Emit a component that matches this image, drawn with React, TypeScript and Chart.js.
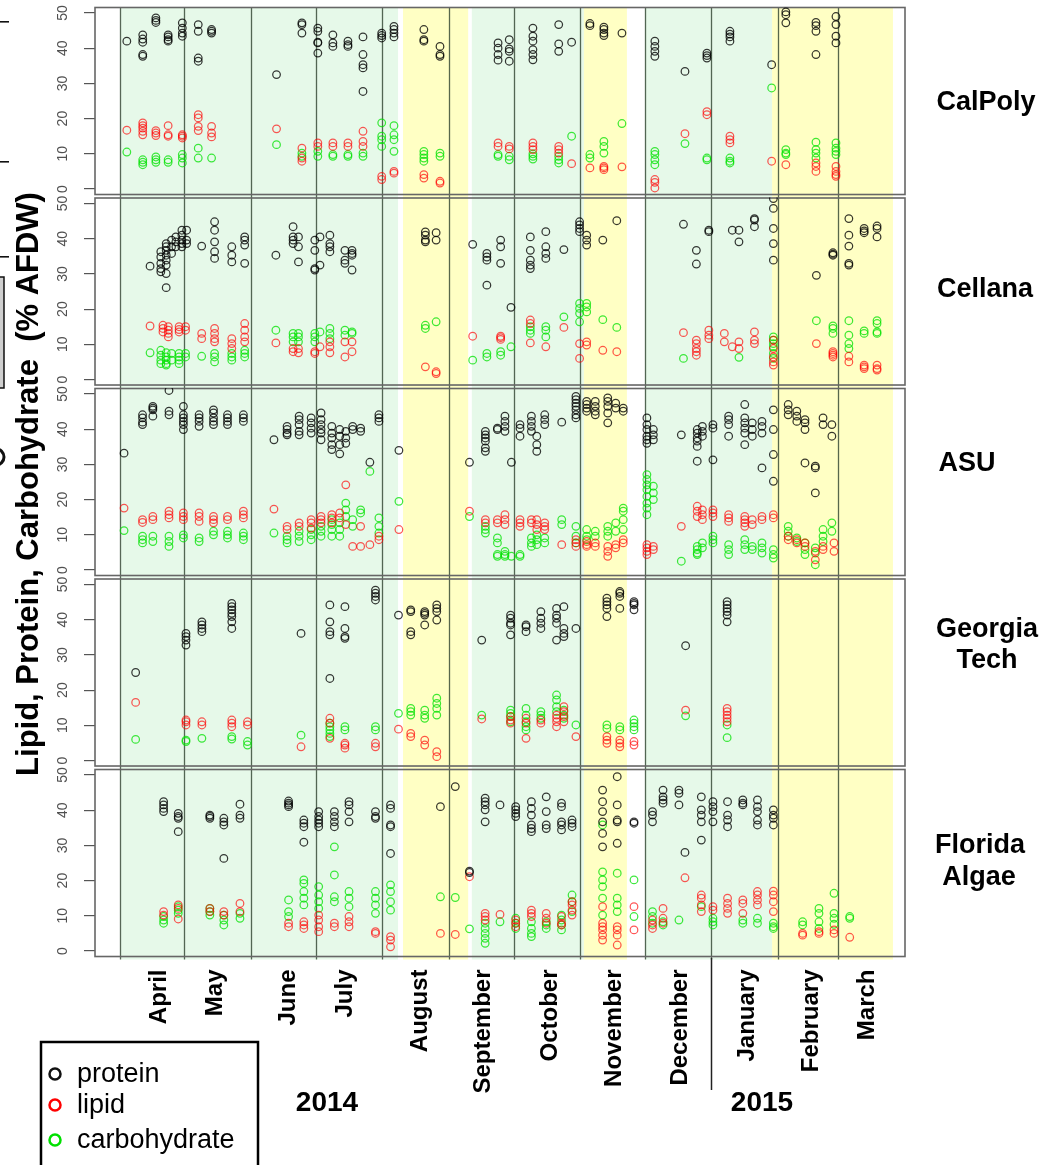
import React, { useEffect, useRef } from "react";
import { Chart, registerables } from "chart.js";

Chart.register(...registerables);

// ---------------- DATA ----------------
// x = days since 1 April 2014; each group: [day, value, value, ...]  (% AFDW)
type Group = number[];

const seriesNames = ["protein", "lipid", "carbohydrate"];
const monthNames = ["April", "May", "June", "July", "August", "September", "October", "November", "December", "January", "February", "March"];
const monthLabelDays = [18.2, 44.2, 78.1, 104.6, 139.5, 168.8, 199.9, 230.1, 260.4, 291.5, 321.7, 347.3];
const monthStartDays = [0, 30, 61, 91, 122, 153, 183, 214, 244, 275, 306, 334];
const yearNames = ["2014", "2015"];
const yTickValues = [0, 10, 20, 30, 40, 50];
const greenPeriods = [[0.5, 129.3], [163.6, 215.7], [244.1, 303.2]];
const yellowPeriods = [[131.6, 161.9], [215.7, 235.7], [303.2, 359.4]];
const yearBoundaryDay = 275;

const calpolyProtein: Group[] = [
  [3.2, 42], [10.6, 43.8, 42.6, 41.7, 38.2, 37.7], [16.7, 48.6, 47.9, 47.3], [22.4, 43.8, 43.2, 42.4, 42],
  [29, 47.2, 45.7, 44.3, 43.4], [36.4, 46.7, 44.8, 37.2, 36.3], [42.6, 45.3, 44.8, 44.3], [72.8, 32.5],
  [84.6, 47.2, 46.7, 44.3], [92, 45.7, 44.8, 41.7, 41.5, 38.6], [99, 43.8, 41.5, 40.5], [106, 42, 41, 40.5],
  [113, 43.2, 38.2, 35.3, 34.4, 27.7], [121.7, 44.3, 43.6, 42.9], [127.4, 46.2, 45.3, 44.3, 43.2],
  [141.3, 45.3, 42.4, 42], [148.8, 40.5, 38.2, 37.7], [175.8, 41.5, 40, 38.2, 36.6], [181, 42.4, 39.8, 39.1, 36.3],
  [192, 45.7, 43.4, 42, 39.6, 38.2, 36.7], [204, 46.7, 41.2, 39.1], [210, 41.7], [218.5, 47, 46.4],
  [225, 46, 45.3, 44.3, 43.6], [233.4, 44.3], [248.7, 42, 40.5, 39.1, 37.7], [262.7, 33.4], [272.9, 38.6, 37.9, 37.2],
  [283.6, 44.8, 44, 43.2, 42], [303, 35.3], [309.6, 50.3, 49.5, 47.2], [323.6, 47.3, 46.4, 44.8, 38.2],
  [332.9, 49, 46.7, 43.4, 41.5],
];
const calpolyLipid: Group[] = [
  [3.2, 16.7], [10.6, 18.8, 18, 17.3, 16.4, 15.4], [16.7, 16.6, 15.9, 15.2], [22.4, 18, 15.4, 15], [29, 15.4, 15, 14.5],
  [36.4, 21.1, 20.2, 17.8, 16.6], [42.6, 17.8, 15.9, 14.8], [72.8, 17.1], [84.6, 11.6, 8.8, 7.9], [92, 13.1, 12.1],
  [99, 13.1, 12.1], [106, 13.1, 12.1], [113, 16.4, 13.5, 12.1], [121.7, 3.6, 2.7], [127.4, 5, 4.5], [141.3, 4.1, 3.1],
  [148.8, 2.2, 1.7], [175.8, 13.1, 12.1], [181, 12.1, 11.4], [192, 13.1, 12.1, 11.2], [204, 12.1, 11.2, 10.2],
  [210, 7.2], [218.5, 6], [225, 6.4, 6, 5.5], [233.4, 6.3], [248.7, 2.7, 1.9, 0.3], [262.7, 15.7], [272.9, 22, 21.1],
  [283.6, 15, 14, 13.1], [303, 7.9], [309.6, 6.9], [323.6, 7.4, 6.4, 5], [332.9, 6.4, 5, 4.1, 3.6],
];
const calpolyCarb: Group[] = [
  [3.2, 10.5], [10.6, 8.3, 7.6, 6.9], [16.7, 9.1, 8.3, 7.6], [22.4, 8.3, 7.6], [29, 9.8, 8.8, 7.4], [36.4, 11.6, 8.8],
  [42.6, 8.8], [72.8, 12.6], [84.6, 10.2, 9.3], [92, 10.7, 9.3], [99, 9.8, 9.3], [106, 9.8, 9.3], [113, 10.2, 9.3],
  [121.7, 18.8, 15, 14, 12.1], [127.4, 18, 15.4, 14, 10.7], [141.3, 10.7, 9.8, 8.8, 7.9], [148.8, 10.2, 9.3],
  [175.8, 9.8, 9.3], [181, 9.3, 8.3], [192, 10, 9.3, 8.5], [204, 9.3, 8.3, 7.4], [210, 15], [218.5, 9.8, 8.8],
  [225, 13.5, 12.1, 10.2], [233.4, 18.6], [248.7, 10.7, 9.8, 8.3, 6.9], [262.7, 12.9], [272.9, 8.8, 8.3],
  [283.6, 8.8, 7.9, 7.4], [303, 28.7], [309.6, 11.2, 10.2, 9.8], [323.6, 13.3, 11.2, 10.2, 8.8], [332.9, 13.1, 11.6, 10.7, 9.8],
];

const cellanaProtein: Group[] = [
  [14, 32.2], [19, 36.3, 34.8, 33, 31.5, 30.6], [21.5, 38.6, 37.7, 36.7, 35.3, 33.9, 32.5, 30.1, 26.1], [24, 39.6, 37.7, 35.8],
  [26, 40.5, 39.1, 37.7], [28.8, 42.4, 41, 39.6, 38.6, 37.7], [31, 42.4, 39.6, 38.6], [38, 37.9], [44, 44.8, 42.4, 39.1, 36.3, 34.4],
  [52, 37.7, 35.3, 33.4], [58, 40.5, 39.6, 38.2, 33], [72.5, 35.3], [80.5, 43.4, 40.5, 39.6, 38.6], [83, 40.5, 37.7, 33.4],
  [90.6, 39.6, 36.7, 31.5, 31.1], [93, 40.5, 32.5], [97.6, 41, 38.6, 37.7, 36.3], [104.6, 36.7, 33.9, 33], [107.9, 36.7, 35.8, 35.3, 31.1],
  [142, 41.9, 41, 39.6, 39.1], [147, 41.7, 39.6], [164, 38.4], [170.6, 35.8, 34.8, 33.9, 26.8], [177, 39.6, 37.7, 33], [181.8, 20.5],
  [190.8, 40.5, 36.7, 33.9, 32.5, 31.5], [198, 42, 37.7, 35.8, 34.4], [206.4, 36.9], [213.7, 44.8, 43.9, 42.9, 42], [217, 41, 39.6, 38.2],
  [224.5, 39.6], [231, 45.1], [262, 44.1], [268, 36.7, 32.8], [273.8, 42.4, 42], [284.7, 42.4], [287.8, 42.4, 39.1], [295, 45.7, 45.3, 43.4],
  [303.8, 51.4, 48.6, 42.9, 38.6, 33.9], [323.8, 29.6], [331.5, 36, 35.6, 35.3], [338.9, 45.7, 41, 37.9, 33, 32.5], [346, 42.9, 42.2, 41.7],
  [352, 43.6, 42.9, 40.5],
];
const cellanaLipid: Group[] = [
  [14, 15.2], [20, 15.4, 14.5, 13.5], [22.5, 15, 14, 13.1, 12.1], [27.5, 15, 14.2, 13.5], [30.5, 15, 14], [38, 13.1, 11.6],
  [44, 14.5, 13.1, 11.6, 10.7], [52, 11.6, 10.2, 8.8], [58, 15.9, 14, 12.1, 10.7], [72.5, 10.4], [80.5, 8.8, 7.9], [83, 8.8, 7.6],
  [90.6, 7.9, 7.4], [93, 9.3], [97.6, 10.7, 9.3, 7.6], [104.6, 10.7, 6.4], [107.9, 10.7, 7.9], [142, 3.6], [147, 2.2, 1.7], [164, 12.3],
  [177, 12.3, 11.9, 11.4], [190.8, 16.9, 15.9, 10.4], [198, 9.3], [206.4, 14.8], [213.7, 10.2, 6], [217, 10.7, 9.8], [224.5, 8.3],
  [231, 7.9], [262, 13.3], [268, 11.2, 10.2, 8.8, 7.9, 6.9], [273.8, 14, 12.6, 11.6], [281, 13.1, 10.7], [284.7, 9.3], [287.8, 10.7, 8.8],
  [295, 13.5, 11.2, 10.2], [303.8, 11.2, 8.8, 6.4, 5, 4.1], [323.8, 10.2], [331.5, 7.9, 7.4, 6.9, 6.4], [338.9, 6.6, 5],
  [346, 4.1, 3.6, 3.1], [352, 4.1, 3.1, 2.7],
];
const cellanaCarb: Group[] = [
  [14, 7.6], [19, 8.3, 6.9, 5.5, 4.5], [21.5, 7.6, 6.4, 5.5, 4.5, 4.1], [24, 7.4, 5.5], [27.5, 7.4, 6.4, 5.5, 4.5], [30.5, 7.4, 6.4],
  [38, 6.6], [44, 7.4, 6.4, 5], [52, 7.4, 6.4, 5.5], [58, 8.3, 7.4, 6.4], [72.5, 14], [80.5, 13.1, 12.1, 10.7], [83, 13.1, 12.1, 10.7],
  [90.6, 13.1, 12.1, 10.7], [93, 13.5], [97.6, 14.5, 13.1, 11.6], [104.6, 14, 12.6], [107.9, 13.5, 13.1], [142, 15.4, 14.5], [147, 16.4],
  [164, 5.5], [170.6, 7.4, 6.4], [177, 7.9, 6.9], [181.8, 9.3], [190.8, 15, 14, 13.1], [198, 15, 14, 12.1], [206.4, 17.8],
  [213.7, 21.6, 20.2, 18.8, 16.4], [217, 21.6, 20.6, 19.2], [224.5, 17], [231, 14.8], [262, 6], [287.8, 6.3],
  [303.8, 12.1, 11.2, 10.2, 9.3, 7.4, 6], [323.8, 16.7], [331.5, 15.2, 14.5, 13.1], [338.9, 16.7, 12.6, 10.2, 8.8], [346, 13.8, 13.1],
  [352, 16.7, 15.9, 13.5, 13.1],
];

const asuProtein: Group[] = [
  [1.9, 33.2], [10.5, 44.1, 43.2, 42, 41.3], [15.3, 46.5, 46, 45.5, 43.7], [22.8, 51, 45.1, 44.1], [29.5, 46.5, 44.1, 43.2, 42.2, 41.3, 39.9],
  [36.8, 44.1, 43.2, 42.2, 40.8], [43.5, 45.5, 44.6, 43.2, 42.2, 41.3], [50, 44.1, 43.2, 42.2, 41.3], [57.4, 44.1, 43.2, 42.2], [71.6, 37],
  [77.7, 40.8, 39.9, 38.9, 38.4], [83.3, 43.7, 42.7, 41.3, 39.4, 38.4], [88.9, 43.2, 41.8, 40.3, 38.9], [93.5, 44.6, 42.7, 41.3, 39.9, 38.9, 37],
  [98.5, 40.8, 38.9, 37.5, 35.6, 34.2], [102.2, 39.9, 38, 35.6, 33], [105, 39.4, 37.5, 36], [108.2, 40.8, 39.9], [111.9, 40.3, 39.4],
  [116.2, 30.6], [120.4, 44.1, 43.2, 42.2], [129.7, 34], [162.5, 30.6], [169.9, 39.4, 38.4, 37.5, 36.6, 34.7, 33.7], [175.5, 40.3, 39.9],
  [179, 43.7, 42.2, 40.8, 39.4], [182, 30.6], [186, 41.3, 40.3, 38], [191.3, 43.7, 42.2, 40.8, 39.4], [193.8, 38, 35.6, 33.7],
  [197.5, 44.1, 42.7, 41.3], [205.4, 42], [212, 49.3, 48.4, 47.4, 46.5, 45.5, 44.1, 43.2], [217, 47.9, 47, 46, 45.1], [221, 47.9, 46.5, 45.1, 44.1],
  [226.8, 48.9, 47.9, 46.5, 44.6, 41.8], [230.5, 47.4, 46], [234, 46, 45.1], [245, 43.2, 41.3, 39.9, 38, 37, 36], [248, 39.9, 38.4, 37],
  [261, 38.4], [268.4, 39.9, 38.9, 37.5, 36.6, 35.1, 30.9], [270.8, 40.8, 39.4, 38], [275.7, 41.3, 40.3, 31.3], [283, 43.7, 42.7, 41.3, 38],
  [290.5, 47, 43.2, 41.8, 40.3, 38.9, 35.6], [294, 41.8, 39.9, 38], [298.5, 42.2, 40.8, 38.9, 29], [303.8, 45.5, 39.9, 32.8, 25.2],
  [310.7, 47, 45.5, 44.1], [314.7, 45.1, 43.7, 42.2], [318.5, 42.7, 41.8, 39.9, 30.4], [323.3, 29.5, 29, 21.9], [326.9, 43.2, 41.3], [331, 41.3, 38],
];
const asuLipid: Group[] = [
  [1.9, 17.6], [10.5, 14.3, 13.5], [15.3, 15.2, 14.3], [22.8, 16.7, 15.7, 14.8], [29.5, 16.2, 15.2, 14.3], [36.8, 16.2, 15.2, 13.8],
  [43.5, 15.2, 14.3, 13.4], [50, 15.2, 14.3], [57.4, 16.7, 15.7, 14.8], [71.6, 17.3], [77.7, 12.4, 11.5], [83.3, 13.4, 12.4],
  [88.9, 14.3, 13.4, 11.9], [93.5, 15.2, 14.3, 13.4], [98.5, 15.7, 14.8, 13.4], [102.2, 16.2, 14.8], [105, 24.2, 12.9], [108.2, 6.7],
  [111.9, 12.4, 6.7], [116.2, 7.2], [120.4, 9.6, 8.6], [129.7, 11.5], [162.5, 16.7], [169.9, 14.3, 13.4], [175.5, 14.3, 13.4],
  [179, 15.7, 14.3, 12.9], [186, 14.3, 13.4, 12.4], [191.3, 14.3, 13.4], [193.8, 14.3, 12.9, 11.5], [197.5, 13.4, 12.4, 11.5], [205.4, 7.2],
  [212, 8.6, 7.7, 6.7], [217, 8.1, 7.2, 6.7], [221, 7.7, 6.7], [226.8, 6.7, 5.3, 3.9], [230.5, 7.2, 6.3], [234, 8.6, 7.7],
  [245, 7.2, 6.3, 5.3, 4.4], [248, 6.7, 5.8], [261, 12.4], [268.4, 18.1, 16.7, 15.2], [270.8, 17.1, 15.7, 14.3], [275.7, 17.1, 16.2, 15.2],
  [283, 15.7, 14.8, 13.8], [290.5, 15.2, 14.3, 13.4, 12.4], [294, 14.3, 12.9], [298.5, 15.2, 14.3], [303.8, 15.7, 14.8], [310.7, 9.6, 8.6],
  [314.7, 8.6, 7.7], [318.5, 7.7, 6.7], [323.3, 5.3, 2.9], [326.9, 6.7, 5.8], [332, 7.7, 5.3],
];
const asuCarb: Group[] = [
  [1.9, 11.2], [10.5, 9.6, 8.6, 7.7], [15.3, 9.6, 8.1], [22.8, 9.6, 8.1, 6.7], [29.5, 10, 9.1], [36.8, 9.1, 8.1], [43.5, 11, 10],
  [50, 11, 10, 9.1], [57.4, 10.5, 9.6, 8.6], [71.6, 10.5], [77.7, 9.6, 8.6, 7.7], [83.3, 11, 9.6, 8.1], [88.9, 11.5, 10, 8.6],
  [93.5, 12.4, 11, 9.6], [98.5, 14.3, 12.9, 11.5, 9.6], [102.2, 13.4, 11.5, 9.6], [105, 19, 17.1, 15.2], [108.2, 14.3, 12.4],
  [111.9, 17.1, 16.2], [116.2, 28], [120.4, 14.8, 12.4, 10.5], [129.7, 19.5], [162.5, 15.2], [169.9, 12.4, 11.5, 10.5],
  [175.5, 9.1, 7.7, 4.4, 3.9], [179, 5.3, 4.4, 3.9], [182, 3.9], [186, 4.4, 3.9], [191.3, 9.1, 7.7, 6.7], [193.8, 10, 8.6, 7.2],
  [197.5, 9.1, 7.7], [205.4, 14.3, 12.9], [212, 12.4, 9.6, 7.7], [217, 11.5, 9.6, 8.6], [221, 11, 9.6], [226.8, 12.4, 11, 9.6],
  [230.5, 13.4, 11], [234, 17.6, 16.7, 14.3, 11.5], [245, 27.1, 25.7, 24.2, 22.8, 20.9, 19, 17.6, 15.7], [248, 23.8, 21.9, 20],
  [261, 2.5], [268.4, 6.7, 5.8, 4.8, 4.4], [270.8, 7.7, 6.3], [275.7, 9.6, 8.6, 7.7], [283, 7.2, 5.8, 4.4], [290.5, 8.6, 7.2, 5.8],
  [294, 6.7, 5.8], [298.5, 7.7, 6.3, 4.8], [303.8, 5.8, 4.4, 3.4], [310.7, 12.4, 11, 9.6], [314.7, 9.1, 8.1], [318.5, 7.7, 5.8, 4.4],
  [323.3, 6.3, 4.8, 1.5], [326.9, 11.5, 9.6, 8.1], [331, 13.4, 11],
];

const gtProtein: Group[] = [
  [7.3, 25], [30.7, 36.1, 35.2, 34.2, 32.8], [38.1, 39.4, 38.5, 37.5, 36.6], [52, 44.6, 43.7, 42.8, 41.8, 40.9, 39.4, 37.5], [84.2, 36.1],
  [97.6, 44.2, 39.4, 36.6, 35.7, 23.3], [104.6, 43.7, 37.5, 35.2, 34.7], [118.8, 48.4, 47.5, 46.6, 45.6], [129.5, 41.3],
  [135.2, 42.8, 42.3, 36.6, 35.7], [141.7, 42.3, 41.8, 41.3, 38.5], [147.3, 44.2, 43.2, 42.3, 39.9], [168.2, 34.2],
  [181.6, 41.3, 40.4, 39, 38.5, 35.7], [188.8, 38.5, 38, 36.6], [195.7, 42.3, 40.4, 39, 37.5], [203, 43.2, 41.3, 40.4, 39, 34.2],
  [206.4, 43.7, 37.5, 36.1, 35.2], [212, 37.5], [226.4, 46.1, 45.1, 44.2, 43.2, 40.9], [232.4, 48, 47.5, 46.6, 43.2],
  [239, 45.1, 44.6, 44.2, 42.8], [263, 32.6], [282.3, 45.1, 44.2, 43.2, 42.3, 41.3, 39.4],
];
const gtLipid: Group[] = [
  [7.3, 16.5], [30.7, 11.5, 11, 10.1], [38.1, 11, 10.1], [52, 11.5, 10.6, 9.6], [59.3, 11, 10.1], [84.2, 3.9], [97.6, 12, 10.6, 6.3],
  [104.6, 4.9, 4.4, 3.5], [118.8, 4.9, 3.9], [129.5, 8.9], [135.2, 7.7, 6.8], [141.7, 5.8, 4.4], [147.3, 2.5, 1.1], [168.2, 11.8],
  [181.6, 12.5, 11.5, 10.6], [188.8, 12, 10.6, 6.3], [195.7, 11.5, 10.6], [203, 12.9, 12, 11, 9.6], [206.4, 15.3, 13.9, 12.5, 11],
  [212, 6.8], [226.4, 6.8, 5.8, 4.9], [232.4, 5.8, 4.9, 3.9], [239, 5.4, 4.4], [263, 14.3], [282.3, 14.8, 13.9, 12.9, 12, 11],
];
const gtCarb: Group[] = [
  [7.3, 6], [30.7, 5.8, 5.4], [38.1, 6.3], [52, 6.8, 6.1], [59.3, 5.4, 4.4], [84.2, 7.2], [97.6, 10.6, 9.6, 8.7, 7.7, 6.8],
  [104.6, 9.6, 8.7], [118.8, 9.6, 8.7], [129.5, 13.4], [135.2, 14.8, 13.9, 12.9], [141.7, 14.3, 12.9, 12], [147.3, 17.7, 16.2, 14.8, 12.9],
  [168.2, 12.9], [181.6, 14.3, 13.4, 12.5, 11], [188.8, 14.8, 12.9, 11, 9.6, 8.7], [195.7, 13.9, 12.9, 12], [203, 18.6, 17.2, 15.3, 13.9],
  [206.4, 14.3, 12.9, 12], [212, 10.1], [226.4, 10.1, 9.1], [232.4, 9.6, 8.7], [239, 11.5, 10.6, 9.6, 8.7], [263, 12.7], [282.3, 10.1, 6.5],
];

const floridaProtein: Group[] = [
  [20.3, 42.4, 41.5, 40.5, 39.6], [27.1, 39.1, 38.2, 37.7, 33.9], [41.8, 38.6, 38.2, 37.7], [48.3, 37.7, 36.7, 35.8, 26.3],
  [55.8, 41.7, 38.6, 37.7], [78.4, 42.6, 42, 41.5, 41], [85.5, 37.2, 36.3, 35.3, 30.9], [92.4, 39.6, 38.2, 37.2, 36.3, 35.3],
  [99.7, 39.6, 38.2, 36.7, 35.3], [106.5, 42.4, 41.5, 39.6, 36.7], [118.8, 39.6, 38.2, 37.7], [125.8, 41.5, 40.5, 35.8, 35.3, 27.7],
  [149, 41], [155.9, 46.7], [162.5, 22.7, 22.3], [169.8, 43.4, 42.4, 41.5, 40.1, 36.7], [176.7, 41.5], [184, 41, 40.1, 39.1, 38.2],
  [191.3, 42.4, 40.5, 38.6, 35.8, 34.8, 33.9], [198.2, 43.8, 39.6, 35.8, 34.8], [205.3, 42, 41, 36.7, 35.8, 34.4], [210.2, 37.2, 36.3, 35.3],
  [224.4, 45.7, 42.4, 39.6, 36.7, 33.4, 29.6], [231.2, 49.5, 41.5, 37.2, 36.7, 30.6], [239, 36.7, 36.3], [247.6, 39.6, 38.6, 36.7],
  [252.5, 45.7, 43.8, 42.9, 42], [259.9, 45.7, 44.8, 41.5], [262.7, 28], [270.3, 43.8, 40.1, 38.6, 36.7, 31.5], [275.7, 42.4, 41, 39.6, 36.7],
  [282.5, 42.4, 38.6, 37.2, 35.3], [289.6, 42.9, 42, 41.5], [296.4, 42.9, 41, 39.6, 37.2, 35.8], [303.8, 40.1, 38.6, 37.7, 35.8],
];
const floridaLipid: Group[] = [
  [20.3, 11.2, 10.2], [27.1, 13.1, 12.1, 9.1], [41.8, 12.1, 11.2], [48.3, 11.2, 10.2], [55.8, 13.5, 11.2], [78.4, 7.9, 6.9],
  [85.5, 8.3, 7.4, 6.4], [92.4, 10.2, 8.8, 6.9, 5.5], [99.7, 7.9, 6.9], [106.5, 9.8, 8.3, 6.9], [118.8, 5.5, 5], [125.8, 4.1, 3.1, 1.2],
  [149, 5], [155.9, 4.7], [162.5, 21.1], [169.8, 10.7, 9.8, 8.8], [176.7, 10.4], [184, 8.8, 7.9, 6.9], [191.3, 11.6, 10.7, 9.8],
  [198.2, 10.7, 9.3, 7.9], [205.3, 9.8, 7.9, 7.4], [210.2, 14, 13.1, 11.6, 10.2], [224.4, 12.6, 7.9, 6.9, 6, 4.5, 3.1],
  [231.2, 6.9, 6, 4.5, 1.7], [239, 12.6, 6], [247.6, 8.8, 7.4, 6.4], [252.5, 12.1, 9.3, 7.9], [262.7, 20.8], [270.3, 15.9, 15, 13.1, 11.2],
  [275.7, 12.6, 11.6], [282.5, 15, 13.5, 12.1, 10.7], [289.6, 14.5, 13.5, 10.7], [296.4, 16.9, 15.9, 14.5, 13.1], [303.8, 17, 15.9, 14, 11.2],
  [317.4, 5, 4.5], [325, 5.5, 5], [332, 6, 5], [339.3, 3.9],
];
const floridaCarb: Group[] = [
  [20.3, 9.8, 8.8, 7.9], [27.1, 12.6, 11.6, 10.7], [41.8, 12.1, 11.2, 10.2], [48.3, 10.2, 8.8, 7.4], [55.8, 10.7, 9.3],
  [78.4, 14.5, 11.2, 9.8], [85.5, 20.2, 19.2, 16.9, 15, 13.1], [92.4, 18.3, 15.9, 14, 12.1], [99.7, 29.6, 21.6, 15.4, 14],
  [106.5, 16.9, 15, 12.6], [118.8, 16.9, 15, 13.1, 10.7], [125.8, 18.8, 16.9, 14, 11.6], [149, 15.4], [155.9, 15.2], [162.5, 6.3],
  [169.8, 7.9, 6.4, 5, 3.6, 2.2], [176.7, 8.3], [184, 9.3, 7.9, 6.4], [191.3, 8.3, 6.4, 5, 4.1], [198.2, 8.3, 7.4, 6.4],
  [205.3, 10.2, 8.8, 7.4, 6], [210.2, 15.9, 14, 11.2], [224.4, 35.8, 22.5, 20.2, 18.3, 15, 10.2], [231.2, 22.1, 15, 13.1, 11.2],
  [239, 20.2, 9.8], [247.6, 11.2, 9.8, 7.9], [252.5, 8.3, 7.4], [259.9, 8.8], [270.3, 12.6], [275.7, 9.3, 8.3, 7.4], [289.6, 8.8, 7.9],
  [296.4, 9.3, 7.9], [303.8, 7.9, 6.9, 6.4], [317.4, 8.3, 7.4], [325, 12.1, 10.7, 8.3, 6.4], [332, 16.4, 10.7, 9.3, 7.6], [339.3, 9.8, 9.3],
];

const panelNames = [["CalPoly"], ["Cellana"], ["ASU"], ["Georgia", "Tech"], ["Florida", "Algae"]];
const panelSeries: Group[][][] = [
  [calpolyProtein, calpolyLipid, calpolyCarb],
  [cellanaProtein, cellanaLipid, cellanaCarb],
  [asuProtein, asuLipid, asuCarb],
  [gtProtein, gtLipid, gtCarb],
  [floridaProtein, floridaLipid, floridaCarb],
];

// ---------------- STYLE / LAYOUT ----------------
const W = 1042;
const H = 1165;
const FONT = '"Liberation Sans", Arial, Helvetica, sans-serif';
const X_MIN = -11.6;
const X_MAX = 365;
const Y_MIN = -2.41;
const Y_MAX = 51.7;
const FRAME_BOTTOM = -1.42;
const seriesColors = ["rgba(0,0,0,0.78)", "rgba(255,0,0,0.66)", "rgba(0,225,0,0.75)"];
const legendColors = ["#111111", "#ff0000", "#00e000"];
const GREEN = "rgb(230,249,233)";
const YELLOW = "rgb(255,255,196)";
const panelLabelPos = [
  [[986, 103]],
  [[985, 290]],
  [[967, 464]],
  [[987, 630], [987, 661]],
  [[980, 846], [979, 878]],
];

function toPoints(groups: Group[]) {
  const pts: { x: number; y: number }[] = [];
  groups.forEach((g) => {
    for (let i = 1; i < g.length; i++) pts.push({ x: g[0], y: g[i] });
  });
  return pts;
}

function rotText(ctx: CanvasRenderingContext2D, text: string, x: number, y: number, font: string, color: string, align: CanvasTextAlign, baseline: CanvasTextBaseline) {
  ctx.save();
  ctx.translate(x, y);
  ctx.rotate(-Math.PI / 2);
  ctx.font = font;
  ctx.fillStyle = color;
  ctx.textAlign = align;
  ctx.textBaseline = baseline;
  ctx.fillText(text, 0, 0);
  ctx.restore();
}

const decorPlugin = {
  id: "decor",
  beforeDatasetsDraw(chart: any) {
    const ctx: CanvasRenderingContext2D = chart.ctx;
    const xs = chart.scales.x;
    const { top, bottom, left, right } = chart.chartArea;
    ctx.save();
    const band = (periods: number[][], color: string) => {
      ctx.fillStyle = color;
      periods.forEach(([a, b]) => {
        const x0 = xs.getPixelForValue(a);
        const x1 = xs.getPixelForValue(b);
        ctx.fillRect(x0, top, x1 - x0, bottom - top);
      });
    };
    band(greenPeriods, GREEN);
    band(yellowPeriods, YELLOW);
    ctx.strokeStyle = "rgba(45,65,45,0.8)";
    ctx.lineWidth = 1.3;
    monthStartDays.forEach((d) => {
      const x = Math.round(xs.getPixelForValue(d)) + 0.5;
      ctx.beginPath();
      ctx.moveTo(x, top);
      ctx.lineTo(x, bottom);
      ctx.stroke();
    });
    ctx.strokeStyle = "#666";
    ctx.lineWidth = 1.6;
    for (let i = 0; i < 5; i++) {
      const ys = chart.scales["y" + i];
      const t = ys.getPixelForValue(Y_MAX);
      const b = ys.getPixelForValue(FRAME_BOTTOM);
      ctx.strokeRect(left, t + 0.5, right - left, b - t);
    }
    ctx.restore();
  },
  afterDraw(chart: any) {
    const ctx: CanvasRenderingContext2D = chart.ctx;
    const xs = chart.scales.x;
    ctx.save();
    // y tick labels
    for (let i = 0; i < 5; i++) {
      const ys = chart.scales["y" + i];
      yTickValues.forEach((v) => {
        rotText(ctx, String(v), 63, ys.getPixelForValue(v), `14px ${FONT}`, "#505050", "center", "middle");
      });
    }
    // y title
    rotText(ctx, "Lipid, Protein, Carbohydrate  (% AFDW)", 38, 484, `bold 31px ${FONT}`, "#000", "center", "alphabetic");
    // panel names
    ctx.fillStyle = "#000";
    ctx.font = `bold 27px ${FONT}`;
    ctx.textAlign = "center";
    ctx.textBaseline = "middle";
    panelNames.forEach((lines, i) => {
      lines.forEach((line, j) => {
        const [px, py] = panelLabelPos[i][j];
        ctx.fillText(line, px, py);
      });
    });
    // year labels and divider
    ctx.font = `bold 28px ${FONT}`;
    ctx.fillText(yearNames[0], 327, 1103);
    ctx.fillText(yearNames[1], 762, 1103);
    const xd = Math.round(xs.getPixelForValue(yearBoundaryDay)) + 0.5;
    ctx.strokeStyle = "#222";
    ctx.lineWidth = 1.5;
    ctx.beginPath();
    ctx.moveTo(xd, 958);
    ctx.lineTo(xd, 1090);
    ctx.stroke();
    // legend
    ctx.strokeStyle = "#000";
    ctx.lineWidth = 2.5;
    ctx.strokeRect(41, 1042, 217, 140);
    const ly = [1074, 1105, 1140];
    ctx.font = `27px ${FONT}`;
    ctx.textAlign = "left";
    ctx.textBaseline = "middle";
    seriesNames.forEach((s, k) => {
      ctx.beginPath();
      ctx.arc(55, ly[k], 5.5, 0, Math.PI * 2);
      ctx.strokeStyle = legendColors[k];
      ctx.lineWidth = 2.5;
      ctx.stroke();
      ctx.fillStyle = "#000";
      ctx.fillText(s, 77, ly[k] + 1);
    });
    // cropped neighbour-figure remnants at left edge
    ctx.fillStyle = "#111";
    [21, 161, 256].forEach((y) => ctx.fillRect(0, y, 9, 1.6));
    ctx.fillStyle = "#cfcfcf";
    ctx.fillRect(0, 277, 4, 111);
    ctx.strokeStyle = "#111";
    ctx.lineWidth = 1.5;
    ctx.beginPath();
    ctx.moveTo(0, 277);
    ctx.lineTo(4, 277);
    ctx.lineTo(4, 388);
    ctx.lineTo(0, 388);
    ctx.stroke();
    ctx.lineWidth = 3;
    ctx.beginPath();
    ctx.arc(-4, 457, 8, -Math.PI / 2, Math.PI / 2);
    ctx.stroke();
    ctx.restore();
  },
};

function yScale(i: number) {
  return {
    type: "linear",
    position: "left",
    stack: "panels",
    stackWeight: 1,
    weight: 5 - i,
    min: Y_MIN,
    max: Y_MAX,
    afterBuildTicks: (s: any) => {
      s.ticks = yTickValues.map((v) => ({ value: v }));
    },
    afterFit: (s: any) => {
      s.width = 95;
    },
    ticks: { display: false },
    grid: { display: true, drawOnChartArea: false, drawTicks: true, tickLength: 11, color: "#555", lineWidth: 1.2 },
    border: { display: false },
  };
}

export default function App() {
  const ref = useRef<HTMLCanvasElement>(null);
  useEffect(() => {
    if (!ref.current) return;
    const datasets: any[] = [];
    panelSeries.forEach((series, p) => {
      series.forEach((groups, k) => {
        datasets.push({
          label: `${panelNames[p].join(" ")} ${seriesNames[k]}`,
          data: toPoints(groups),
          yAxisID: "y" + p,
          xAxisID: "x",
          showLine: false,
          pointStyle: "circle",
          pointRadius: 3.8,
          pointBorderWidth: 1.25,
          borderColor: seriesColors[k],
          backgroundColor: "rgba(0,0,0,0)",
          pointBackgroundColor: "rgba(0,0,0,0)",
        });
      });
    });
    const scales: any = {
      x: {
        type: "linear",
        position: "bottom",
        min: X_MIN,
        max: X_MAX,
        afterBuildTicks: (s: any) => {
          s.ticks = monthLabelDays.map((v) => ({ value: v }));
        },
        afterFit: (s: any) => {
          s.height = 205.5;
        },
        ticks: {
          autoSkip: false,
          minRotation: 90,
          maxRotation: 90,
          padding: 2,
          color: "#000",
          font: { family: FONT, size: 24, weight: "bold" },
          callback: (_v: any, idx: number) => monthNames[idx] ?? "",
        },
        grid: { display: false },
        border: { display: false },
      },
    };
    for (let i = 0; i < 5; i++) scales["y" + i] = yScale(i);
    const chart = new Chart(ref.current, {
      type: "scatter",
      data: { datasets },
      options: {
        animation: false,
        responsive: false,
        devicePixelRatio: 1,
        events: [],
        layout: { padding: { left: 0, top: 7, right: 137, bottom: 0 }, autoPadding: false },
        plugins: { legend: { display: false }, tooltip: { enabled: false } },
        scales,
      } as any,
      plugins: [decorPlugin],
    });
    return () => chart.destroy();
  }, []);
  return (
    <div style={{ position: "absolute", left: 0, top: 0, width: W, height: H, background: "#fff" }}>
      <canvas ref={ref} width={W} height={H} style={{ display: "block", width: W, height: H }} />
    </div>
  );
}
